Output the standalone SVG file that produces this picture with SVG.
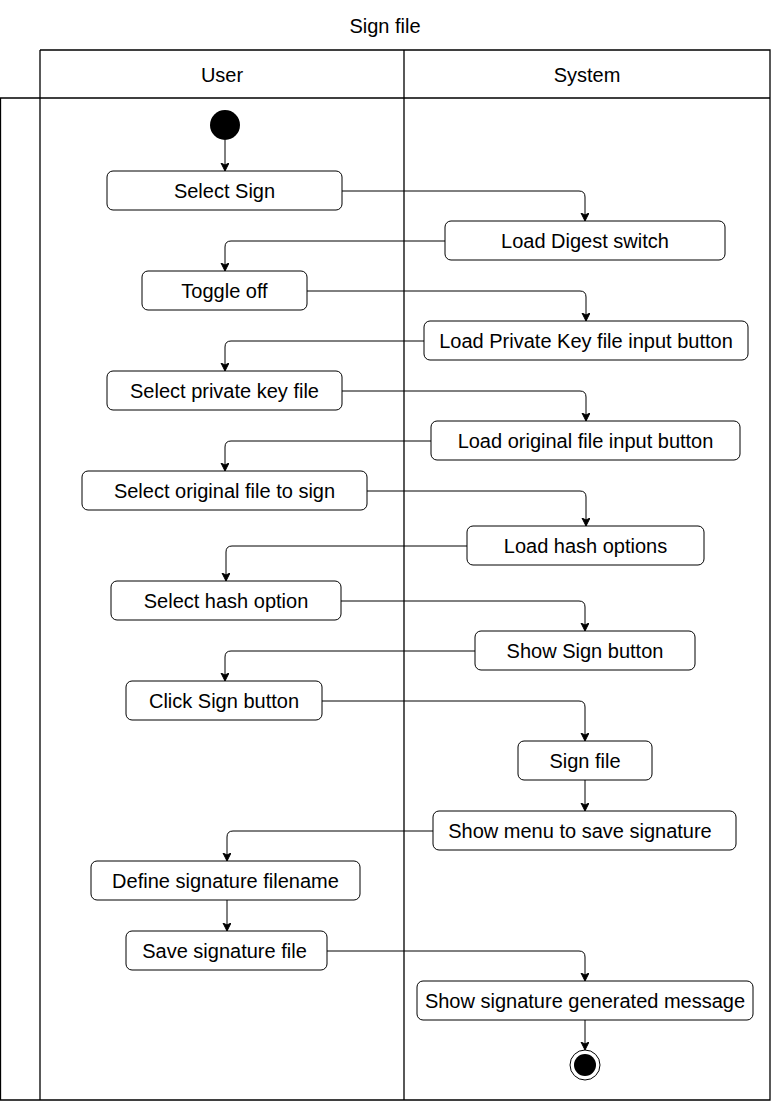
<svg xmlns="http://www.w3.org/2000/svg" width="771" height="1102" viewBox="0 0 771 1102">
<style>
  .lane { fill: none; stroke: #000; stroke-width: 1.3; }
  .node rect { fill: #fff; stroke: #000; stroke-width: 1; }
  text { font-family: "Liberation Sans", Arial, sans-serif; font-size: 20px; fill: #000; text-anchor: middle; }
  .hdr { font-size: 20px; }
  .edge { fill: none; stroke: #000; stroke-width: 1; marker-end: url(#arrow); }
</style>
<defs>
  <marker id="arrow" markerWidth="10" markerHeight="10" refX="8" refY="4" orient="auto" markerUnits="userSpaceOnUse">
    <path d="M0,0 L8,4 L0,8 L2,4 Z" fill="#000" stroke="#000" stroke-width="1"/>
  </marker>
</defs>
<rect width="771" height="1102" fill="#fff"/>
<text x="385" y="33">Sign file</text>
<g id="pool">
  <path class="lane" d="M40,50 H770 V1100 H0.5 V98 H770 M40,50 V1100 M404,50 V1100"/>
  <text class="hdr" x="222" y="82">User</text>
  <text class="hdr" x="587" y="82">System</text>
</g>
<g id="connectors">
  <path class="edge" d="M225,140 V171"/>
  <path class="edge" d="M342,191 H579 Q585,191 585,197 V221"/>
  <path class="edge" d="M445,241 H231 Q225,241 225,247 V271"/>
  <path class="edge" d="M307,291 H580 Q586,291 586,297 V321"/>
  <path class="edge" d="M424,341 H231 Q225,341 225,347 V371"/>
  <path class="edge" d="M342,391 H580 Q586,391 586,397 V421"/>
  <path class="edge" d="M431,441 H231 Q225,441 225,447 V471"/>
  <path class="edge" d="M367,491 H580 Q586,491 586,497 V526"/>
  <path class="edge" d="M467,546 H232 Q226,546 226,552 V581"/>
  <path class="edge" d="M341,601 H579 Q585,601 585,607 V631"/>
  <path class="edge" d="M475,651 H231 Q225,651 225,657 V681"/>
  <path class="edge" d="M322,701 H579 Q585,701 585,707 V741"/>
  <path class="edge" d="M585,780 V811"/>
  <path class="edge" d="M433,831 H233 Q227,831 227,837 V861"/>
  <path class="edge" d="M227,900 V931"/>
  <path class="edge" d="M327,951 H579 Q585,951 585,957 V981"/>
  <path class="edge" d="M585,1020 V1050"/>
</g>
<g id="start"><circle cx="225" cy="125" r="15" fill="#000"/></g>
<g id="n1" class="node"><rect x="107" y="171" width="235" height="39" rx="6"/><text x="224.5" y="198">Select Sign</text></g>
<g id="n2" class="node"><rect x="445" y="221" width="280" height="39" rx="6"/><text x="585" y="248">Load Digest switch</text></g>
<g id="n3" class="node"><rect x="142" y="271" width="165" height="39" rx="6"/><text x="224.5" y="298">Toggle off</text></g>
<g id="n4" class="node"><rect x="424" y="321" width="324" height="39" rx="6"/><text x="586" y="348">Load Private Key file input button</text></g>
<g id="n5" class="node"><rect x="107" y="371" width="235" height="39" rx="6"/><text x="224.5" y="398">Select private key file</text></g>
<g id="n6" class="node"><rect x="431" y="421" width="309" height="39" rx="6"/><text x="585.5" y="448">Load original file input button</text></g>
<g id="n7" class="node"><rect x="82" y="471" width="285" height="39" rx="6"/><text x="224.5" y="498">Select original file to sign</text></g>
<g id="n8" class="node"><rect x="467" y="526" width="237" height="39" rx="6"/><text x="585.5" y="553">Load hash options</text></g>
<g id="n9" class="node"><rect x="111" y="581" width="230" height="39" rx="6"/><text x="226" y="608">Select hash option</text></g>
<g id="n10" class="node"><rect x="475" y="631" width="220" height="39" rx="6"/><text x="585" y="658">Show Sign button</text></g>
<g id="n11" class="node"><rect x="126" y="681" width="196" height="39" rx="6"/><text x="224" y="708">Click Sign button</text></g>
<g id="n12" class="node"><rect x="518" y="741" width="134" height="39" rx="6"/><text x="585" y="768">Sign file</text></g>
<g id="n13" class="node"><rect x="433" y="811" width="303" height="39" rx="6"/><text x="580" y="838">Show menu to save signature</text></g>
<g id="n14" class="node"><rect x="91" y="861" width="269" height="39" rx="6"/><text x="225.5" y="888">Define signature filename</text></g>
<g id="n15" class="node"><rect x="126" y="931" width="201" height="39" rx="6"/><text x="224.5" y="958">Save signature file</text></g>
<g id="n16" class="node"><rect x="417" y="981" width="336" height="39" rx="6"/><text x="585" y="1008">Show signature generated message</text></g>
<g id="end"><circle cx="585" cy="1065" r="15" fill="#fff" stroke="#000" stroke-width="1"/><circle cx="585" cy="1065" r="11" fill="#000"/></g>
</svg>
